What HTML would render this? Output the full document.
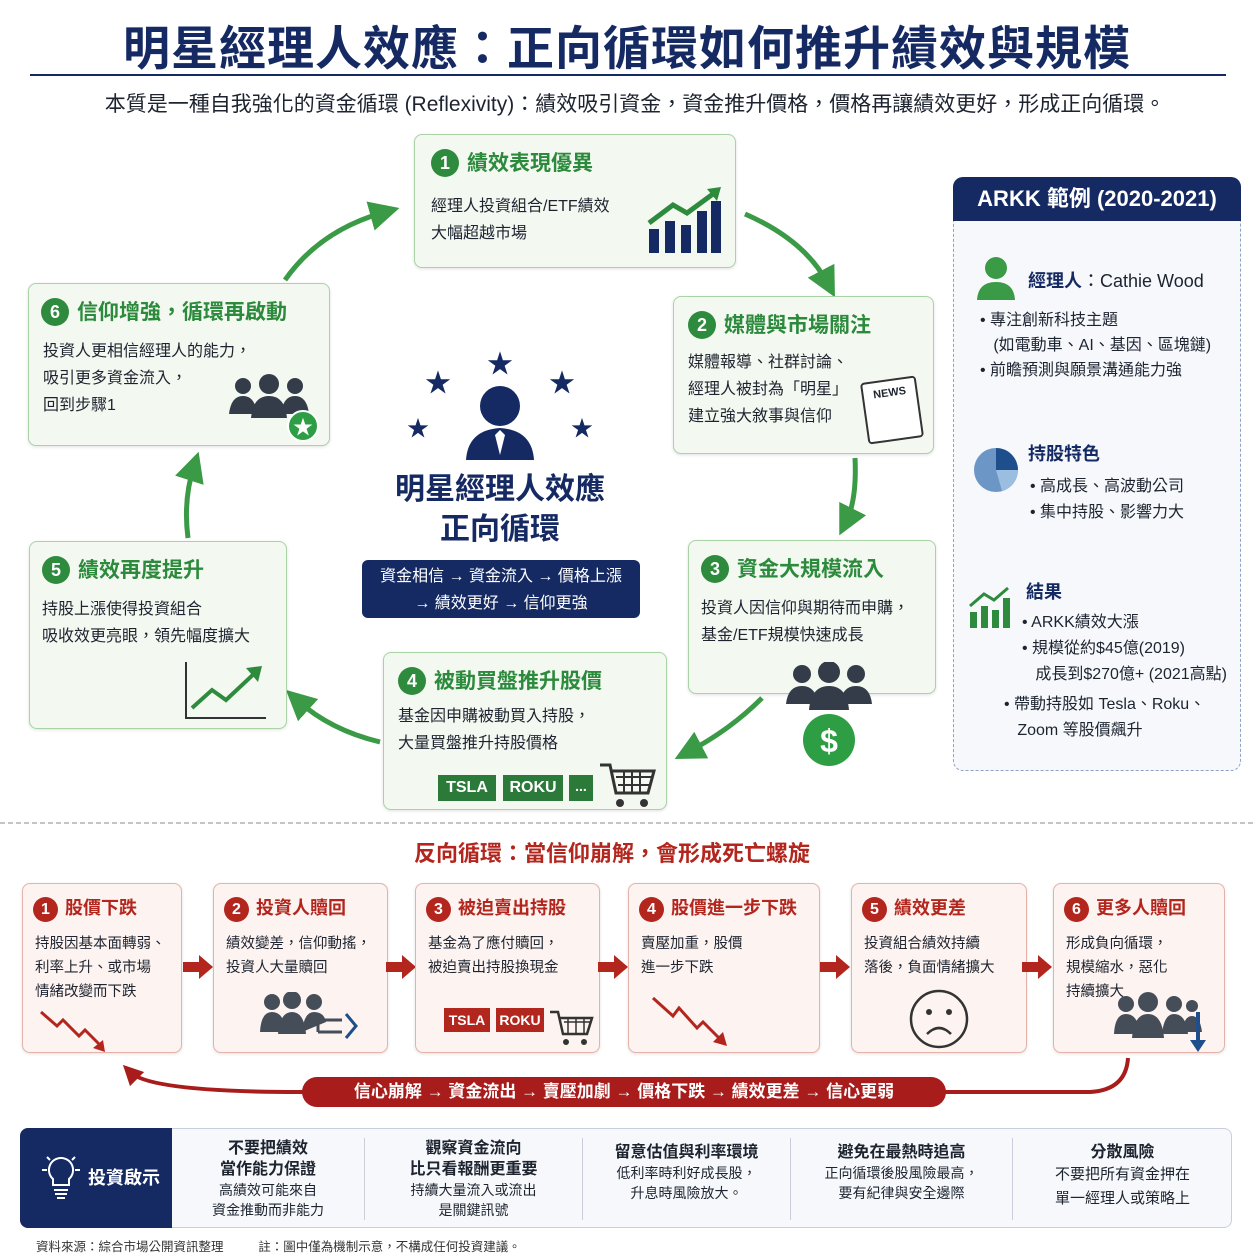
<!DOCTYPE html>
<html><head><meta charset="utf-8">
<style>
*{margin:0;padding:0;box-sizing:border-box}
body{width:1254px;height:1254px;background:#fff;position:relative;overflow:hidden;font-family:"Liberation Sans","Noto Sans CJK TC",sans-serif;color:#1d2430}
.a{position:absolute}
.g{position:absolute;background:#f3f8f0;border:1.5px solid #a9d3a4;border-radius:8px;box-shadow:0 1px 3px rgba(0,0,0,.12)}
.gt{position:absolute;font-size:21px;font-weight:bold;color:#2c8a3c;white-space:nowrap}
.num{display:inline-block;width:28px;height:28px;border-radius:50%;background:#2e8b3e;color:#fff;text-align:center;line-height:28px;font-size:18px;margin-right:8px;vertical-align:1px}
.gb{position:absolute;font-size:16px;line-height:27px;white-space:nowrap}
.r{position:absolute;top:883px;height:170px;background:#fdf3f0;border:1.5px solid #e5b2a9;border-radius:8px;box-shadow:0 1px 3px rgba(0,0,0,.12)}
.rt{position:absolute;left:10px;top:10px;font-size:18px;font-weight:bold;color:#b3261e;white-space:nowrap}
.rn{display:inline-block;width:25px;height:25px;border-radius:50%;background:#b3261e;color:#fff;text-align:center;line-height:25px;font-size:16px;margin-right:7px}
.rb{position:absolute;left:12px;top:48px;font-size:14.5px;line-height:24px;white-space:nowrap}
.ins{position:absolute;top:1138px;height:82px;text-align:center;font-size:14px;line-height:20px;border-left:1px solid #ccd}
.ins b{font-size:16px;display:block;line-height:21px}
.ra{position:absolute;top:955px;width:0;height:0;border-top:12px solid transparent;border-bottom:12px solid transparent;border-left:14px solid #b3261e}
.ra:before{content:"";position:absolute;left:-30px;top:-5px;width:16px;height:10px;background:#b3261e}
</style></head><body>
<div class="a" style="left:0;top:10px;width:1254px;text-align:center;font-size:47px;font-weight:bold;color:#152a63;letter-spacing:1px">明星經理人效應：正向循環如何推升績效與規模</div>
<div class="a" style="left:30px;top:74px;width:1196px;height:2px;background:#152a63"></div>
<div class="a" style="left:0;top:88px;width:1270px;text-align:center;font-size:21px">本質是一種自我強化的資金循環 (Reflexivity)：績效吸引資金，資金推升價格，價格再讓績效更好，形成正向循環。</div>

<svg class="a" style="left:0;top:0" width="1254" height="830">
<defs><marker id="ga" markerWidth="6" markerHeight="6" refX="3" refY="3" orient="auto"><path d="M0,0L6,3L0,6z" fill="#3a9a46"/></marker>
<marker id="rr" markerWidth="5" markerHeight="5" refX="2.5" refY="2.5" orient="auto"><path d="M0,0L5,2.5L0,5z" fill="#a81c1c"/></marker></defs>
<g stroke="#3a9a46" stroke-width="5" fill="none" marker-end="url(#ga)">
<path d="M285,280 Q320,230 385,212"/>
<path d="M745,214 Q805,240 828,284"/>
<path d="M855,458 Q857,500 846,522"/>
<path d="M762,698 Q730,730 688,752"/>
<path d="M380,742 Q330,730 297,700"/>
<path d="M188,538 Q183,500 194,466"/>
</g>
<g fill="#152a63">
<circle cx="500" cy="406" r="20"/><path d="M466,460 Q468,430 500,428 Q532,430 534,460z"/>
<path d="M500,430 l-5,5 5,20 5,-20z" fill="#fff"/>
<text x="500" y="373" font-size="26" text-anchor="middle">★</text>
<text x="438" y="392" font-size="26" text-anchor="middle">★</text>
<text x="562" y="392" font-size="26" text-anchor="middle">★</text>
<text x="418" y="436" font-size="22" text-anchor="middle">★</text>
<text x="582" y="436" font-size="22" text-anchor="middle">★</text>
</g>
<line x1="0" y1="823" x2="1254" y2="823" stroke="#888" stroke-dasharray="5,3"/>
</svg>

<div class="a" style="left:360px;top:470px;width:280px;text-align:center;font-size:30px;font-weight:bold;color:#152a63;line-height:40px">明星經理人效應<br>正向循環</div>
<div class="a" style="left:362px;top:560px;width:278px;height:58px;background:#152a63;border-radius:6px;color:#fff;text-align:center;font-size:16px;line-height:27px;padding-top:3px">資金相信 → 資金流入 → 價格上漲<br>→ 績效更好 → 信仰更強</div>

<div class="g" style="left:414px;top:134px;width:322px;height:134px">
<div class="gt" style="left:16px;top:12px"><span class="num">1</span>績效表現優異</div>
<div class="gb" style="left:16px;top:58px">經理人投資組合/ETF績效<br>大幅超越市場</div>
<svg class="a" style="left:230px;top:52px" width="80" height="70"><g fill="#152a63"><rect x="4" y="42" width="10" height="24"/><rect x="20" y="34" width="10" height="32"/><rect x="36" y="38" width="10" height="28"/><rect x="52" y="24" width="10" height="42"/><rect x="66" y="14" width="10" height="52"/></g><path d="M4,36 L28,18 L42,26 L72,4" stroke="#2e8b3e" stroke-width="5" fill="none"/><path d="M62,2 L76,0 L72,14z" fill="#2e8b3e"/></svg>
</div>

<div class="g" style="left:673px;top:296px;width:261px;height:158px">
<div class="gt" style="left:14px;top:12px"><span class="num">2</span>媒體與市場關注</div>
<div class="gb" style="left:14px;top:52px">媒體報導、社群討論、<br>經理人被封為「明星」<br>建立強大敘事與信仰</div>
<div class="a" style="left:190px;top:82px;width:56px;height:62px;border:2px solid #333;border-radius:4px;background:#fff;font-size:11px;font-weight:bold;text-align:center;padding-top:6px;transform:rotate(-8deg)">NEWS</div>
</div>

<div class="g" style="left:688px;top:540px;width:248px;height:154px">
<div class="gt" style="left:12px;top:12px"><span class="num">3</span>資金大規模流入</div>
<div class="gb" style="left:12px;top:54px">投資人因信仰與期待而申購，<br>基金/ETF規模快速成長</div>
</div>
<svg class="a" style="left:782px;top:662px" width="95" height="108"><g fill="#333c48"><circle cx="20" cy="12" r="9"/><path d="M4,42 Q6,24 20,24 Q34,24 36,42z"/><circle cx="74" cy="12" r="9"/><path d="M58,42 Q60,24 74,24 Q88,24 90,42z"/><circle cx="47" cy="10" r="11"/><path d="M27,48 Q29,24 47,24 Q65,24 67,48z"/></g><circle cx="47" cy="78" r="26" fill="#2e9e44"/><text x="47" y="90" font-size="32" fill="#fff" text-anchor="middle" font-weight="bold">$</text></svg>

<div class="g" style="left:383px;top:652px;width:284px;height:158px">
<div class="gt" style="left:14px;top:12px"><span class="num">4</span>被動買盤推升股價</div>
<div class="gb" style="left:14px;top:50px">基金因申購被動買入持股，<br>大量買盤推升持股價格</div>
<div class="a" style="left:54px;top:122px;width:58px;height:26px;background:#2b7a3a;color:#fff;font-weight:bold;font-size:16px;text-align:center;line-height:26px">TSLA</div>
<div class="a" style="left:119px;top:122px;width:60px;height:26px;background:#2b7a3a;color:#fff;font-weight:bold;font-size:16px;text-align:center;line-height:26px">ROKU</div>
<div class="a" style="left:185px;top:122px;width:24px;height:26px;background:#2b7a3a;color:#fff;font-weight:bold;font-size:14px;text-align:center;line-height:22px">...</div>
<svg class="a" style="left:214px;top:108px" width="60" height="48"><path d="M2,4h10l6,28h32l6-22H14" stroke="#333" stroke-width="3" fill="none"/><path d="M18,16h36M20,24h32M26,10v22M34,10v22M42,10v22" stroke="#333" stroke-width="2"/><circle cx="22" cy="42" r="4" fill="#333"/><circle cx="46" cy="42" r="4" fill="#333"/></svg>
</div>

<div class="g" style="left:29px;top:541px;width:258px;height:188px">
<div class="gt" style="left:12px;top:12px"><span class="num">5</span>績效再度提升</div>
<div class="gb" style="left:12px;top:54px">持股上漲使得投資組合<br>吸收效更亮眼，領先幅度擴大</div>
<svg class="a" style="left:152px;top:118px" width="86" height="62"><path d="M4,2V58H84" stroke="#333" stroke-width="2" fill="none"/><path d="M10,48 L30,30 L44,40 L74,12" stroke="#2e8b3e" stroke-width="4" fill="none"/><path d="M64,8 L80,6 L76,22z" fill="#2e8b3e"/></svg>
</div>

<div class="g" style="left:28px;top:283px;width:302px;height:163px">
<div class="gt" style="left:12px;top:12px"><span class="num">6</span>信仰增強，循環再啟動</div>
<div class="gb" style="left:14px;top:54px">投資人更相信經理人的能力，<br>吸引更多資金流入，<br>回到步驟1</div>
<svg class="a" style="left:198px;top:90px" width="96" height="68"><g fill="#333c48"><circle cx="16" cy="12" r="8"/><path d="M2,40 Q4,22 16,22 Q28,22 30,40z"/><circle cx="68" cy="12" r="8"/><path d="M54,40 Q56,22 68,22 Q80,22 82,40z"/><circle cx="42" cy="10" r="10"/><path d="M24,44 Q26,22 42,22 Q58,22 60,44z"/></g><circle cx="76" cy="52" r="15" fill="#2e9e44" stroke="#fff" stroke-width="2"/><text x="76" y="60" font-size="20" fill="#fff" text-anchor="middle">★</text></svg>
</div>

<div class="a" style="left:953px;top:177px;width:288px;height:594px;border:1.5px dashed #8fa3c4;border-radius:10px;background:#f6f8fc"></div>
<div class="a" style="left:953px;top:177px;width:288px;height:44px;background:#152a63;border-radius:10px 10px 0 0;color:#fff;font-size:22px;font-weight:bold;text-align:center;line-height:44px">ARKK 範例 (2020-2021)</div>
<svg class="a" style="left:974px;top:254px" width="44" height="46"><circle cx="22" cy="14" r="11" fill="#3a9a46"/><path d="M3,46 Q4,28 22,28 Q40,28 41,46z" fill="#3a9a46"/></svg>
<div class="a" style="left:1028px;top:267px;font-size:18px;white-space:nowrap"><b style="color:#152a63">經理人</b>：Cathie Wood</div>
<div class="a" style="left:980px;top:308px;font-size:16px;line-height:25px;white-space:nowrap">• 專注創新科技主題<br>&nbsp;&nbsp;&nbsp;(如電動車、AI、基因、區塊鏈)<br>• 前瞻預測與願景溝通能力強</div>
<svg class="a" style="left:972px;top:446px" width="48" height="48"><circle cx="24" cy="24" r="22" fill="#6b96c6"/><path d="M24,24 V2 A22,22 0 0 1 46,24z" fill="#1f4e8c"/><path d="M24,24 H46 A22,22 0 0 1 30,45z" fill="#9bbde0"/></svg>
<div class="a" style="left:1028px;top:440px;font-size:18px;font-weight:bold;color:#152a63">持股特色</div>
<div class="a" style="left:1030px;top:474px;font-size:16px;line-height:26px;white-space:nowrap">• 高成長、高波動公司<br>• 集中持股、影響力大</div>
<svg class="a" style="left:968px;top:586px" width="46" height="44"><g fill="#2e8b3e"><rect x="2" y="26" width="7" height="16"/><rect x="13" y="20" width="7" height="22"/><rect x="24" y="24" width="7" height="18"/><rect x="35" y="12" width="7" height="30"/></g><path d="M2,20 L16,8 L26,14 L40,2" stroke="#2e8b3e" stroke-width="3" fill="none"/></svg>
<div class="a" style="left:1026px;top:578px;font-size:18px;font-weight:bold;color:#152a63">結果</div>
<div class="a" style="left:1022px;top:610px;font-size:16px;line-height:26px;white-space:nowrap">• ARKK績效大漲<br>• 規模從約$45億(2019)<br>&nbsp;&nbsp;&nbsp;成長到$270億+ (2021高點)</div>
<div class="a" style="left:1004px;top:692px;font-size:16px;line-height:26px;white-space:nowrap">• 帶動持股如 Tesla、Roku、<br>&nbsp;&nbsp;&nbsp;Zoom 等股價飆升</div>

<div class="a" style="left:0;top:836px;width:1224px;text-align:center;font-size:22px;font-weight:bold;color:#b3261e">反向循環：當信仰崩解，會形成死亡螺旋</div>

<div class="r" style="left:22px;width:160px"><div class="rt"><span class="rn">1</span>股價下跌</div><div class="rb">持股因基本面轉弱、<br>利率上升、或市場<br>情緒改變而下跌</div>
<svg class="a" style="left:16px;top:124px" width="70" height="46"><path d="M2,4 L18,18 L24,12 L40,28 L46,22 L62,38" stroke="#b3261e" stroke-width="3" fill="none"/><path d="M54,40 L66,44 L64,32z" fill="#b3261e"/></svg></div>
<div class="ra" style="left:199px"></div>
<div class="r" style="left:213px;width:175px"><div class="rt"><span class="rn">2</span>投資人贖回</div><div class="rb">績效變差，信仰動搖，<br>投資人大量贖回</div>
<svg class="a" style="left:44px;top:108px" width="106" height="50"><g fill="#444d58"><circle cx="14" cy="10" r="8"/><path d="M2,40 Q3,20 14,20 Q26,20 28,40z"/><circle cx="34" cy="8" r="9"/><path d="M20,42 Q22,20 34,20 Q46,20 48,42z"/><circle cx="56" cy="10" r="8"/><path d="M44,40 Q46,20 56,20 Q66,20 68,30z"/></g><path d="M60,28 H84 M60,40 H84 M60,28 V40" stroke="#444d58" stroke-width="3" fill="none"/><path d="M88,22 L98,34 L88,46" stroke="#1f4e8c" stroke-width="3" fill="none"/></svg></div>
<div class="ra" style="left:402px"></div>
<div class="r" style="left:415px;width:185px"><div class="rt"><span class="rn">3</span>被迫賣出持股</div><div class="rb">基金為了應付贖回，<br>被迫賣出持股換現金</div>
<div class="a" style="left:28px;top:124px;width:46px;height:24px;background:#b3261e;color:#fff;font-weight:bold;font-size:14px;text-align:center;line-height:24px">TSLA</div>
<div class="a" style="left:80px;top:124px;width:48px;height:24px;background:#b3261e;color:#fff;font-weight:bold;font-size:14px;text-align:center;line-height:24px">ROKU</div>
<svg class="a" style="left:132px;top:124px" width="46" height="40"><path d="M2,4h8l5,22h24l5-16H12" stroke="#333" stroke-width="2.5" fill="none"/><path d="M16,14h26M20,10v16M28,10v16M36,10v16" stroke="#333" stroke-width="1.5"/><circle cx="18" cy="34" r="3" fill="#333"/><circle cx="36" cy="34" r="3" fill="#333"/></svg></div>
<div class="ra" style="left:614px"></div>
<div class="r" style="left:628px;width:192px"><div class="rt"><span class="rn">4</span>股價進一步下跌</div><div class="rb">賣壓加重，股價<br>進一步下跌</div>
<svg class="a" style="left:22px;top:110px" width="80" height="54"><path d="M2,4 L22,22 L28,14 L46,34 L52,28 L70,46" stroke="#b3261e" stroke-width="3" fill="none"/><path d="M62,48 L76,52 L72,38z" fill="#b3261e"/></svg></div>
<div class="ra" style="left:836px"></div>
<div class="r" style="left:851px;width:176px"><div class="rt"><span class="rn">5</span>績效更差</div><div class="rb">投資組合績效持續<br>落後，負面情緒擴大</div>
<svg class="a" style="left:56px;top:104px" width="62" height="62"><circle cx="31" cy="31" r="28" stroke="#333" stroke-width="2.5" fill="none"/><circle cx="21" cy="24" r="3" fill="#333"/><circle cx="41" cy="24" r="3" fill="#333"/><path d="M19,46 Q31,34 43,46" stroke="#333" stroke-width="2.5" fill="none"/></svg></div>
<div class="ra" style="left:1038px"></div>
<div class="r" style="left:1053px;width:172px"><div class="rt"><span class="rn">6</span>更多人贖回</div><div class="rb">形成負向循環，<br>規模縮水，惡化<br>持續擴大</div>
<svg class="a" style="left:58px;top:108px" width="112" height="70"><g fill="#444d58"><circle cx="14" cy="12" r="8"/><path d="M2,42 Q3,22 14,22 Q26,22 28,42z"/><circle cx="36" cy="10" r="10"/><path d="M20,46 Q22,22 36,22 Q50,22 52,46z"/><circle cx="62" cy="12" r="8"/><path d="M50,42 Q52,22 62,22 Q74,22 76,42z"/><circle cx="80" cy="14" r="6"/><path d="M70,40 Q72,24 80,24 Q88,24 90,40z"/></g><path d="M86,20 V52" stroke="#1f4e8c" stroke-width="4"/><path d="M78,48 L86,60 L94,48z" fill="#1f4e8c"/></svg></div>

<svg class="a" style="left:0;top:1050px" width="1254" height="70"><path d="M1128,8 Q1126,40 1090,42 L300,42 Q150,42 130,22" stroke="#a81c1c" stroke-width="4" fill="none" marker-end="url(#rr)"/></svg>
<div class="a" style="left:302px;top:1077px;width:644px;height:30px;background:#a81c1c;border-radius:15px;color:#fff;font-size:17px;font-weight:bold;text-align:center;line-height:30px">信心崩解 → 資金流出 → 賣壓加劇 → 價格下跌 → 績效更差 → 信心更弱</div>

<div class="a" style="left:20px;top:1128px;width:1212px;height:100px;border:1.5px solid #c8cfdc;border-radius:8px;background:#f7f8fb"></div>
<div class="a" style="left:20px;top:1128px;width:152px;height:100px;background:#152a63;border-radius:8px 0 0 8px;color:#fff;font-size:18px;font-weight:bold;line-height:100px;padding-left:68px">投資啟示</div>
<svg class="a" style="left:40px;top:1152px" width="42" height="52"><path d="M21,6 a12,12 0 0 1 8,21 v6 h-16 v-6 a12,12 0 0 1 8,-21z" stroke="#fff" stroke-width="2" fill="none"/><path d="M14,38h14M15,42h12M17,46h8M2,18h5M35,18h5M7,5l3,3M35,5l-3,3" stroke="#fff" stroke-width="2"/></svg>
<div class="ins" style="left:172px;width:192px;border-left:none"><b>不要把績效<br>當作能力保證</b>高績效可能來自<br>資金推動而非能力</div>
<div class="ins" style="left:364px;width:218px"><b>觀察資金流向<br>比只看報酬更重要</b>持續大量流入或流出<br>是關鍵訊號</div>
<div class="ins" style="left:582px;width:208px"><b style="margin-top:4px">留意估值與利率環境</b>低利率時利好成長股，<br>升息時風險放大。</div>
<div class="ins" style="left:790px;width:222px"><b style="margin-top:4px">避免在最熱時追高</b>正向循環後股風險最高，<br>要有紀律與安全邊際</div>
<div class="ins" style="left:1012px;width:220px;font-size:15px;line-height:24px"><b style="margin-top:4px">分散風險</b>不要把所有資金押在<br>單一經理人或策略上</div>

<div class="a" style="left:36px;top:1236px;font-size:12.5px;color:#333;white-space:nowrap">資料來源：綜合市場公開資訊整理&nbsp;&nbsp;&nbsp;&nbsp;&nbsp;&nbsp;&nbsp;&nbsp;&nbsp;&nbsp;註：圖中僅為機制示意，不構成任何投資建議。</div>
</body></html>
